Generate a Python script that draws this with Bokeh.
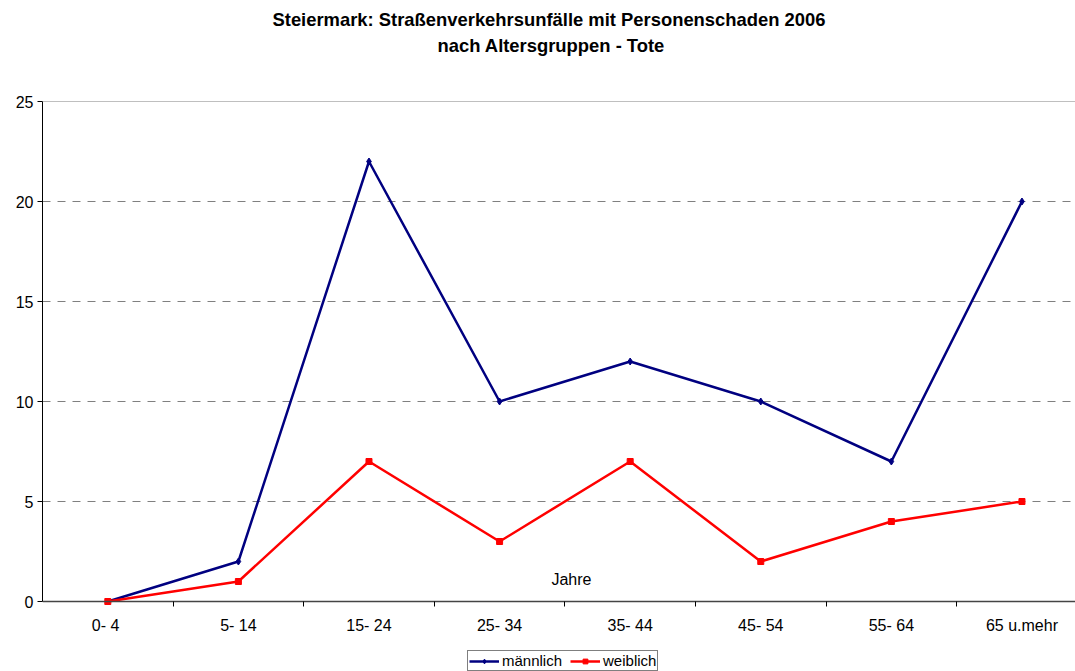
from bokeh.plotting import figure
from bokeh.models import FixedTicker, Legend, LegendItem, Label, Span, Title
from bokeh.embed import file_html
from bokeh.resources import INLINE

categories = ["0-  4", "5- 14", "15- 24", "25- 34", "35- 44", "45- 54", "55- 64", "65 u.mehr"]
maennlich = [0, 2, 22, 10, 12, 10, 7, 20]
weiblich = [0, 1, 7, 3, 7, 2, 4, 5]
title_lines = ["Steiermark: Straßenverkehrsunfälle mit Personenschaden 2006", "nach Altersgruppen - Tote"]

xs = list(range(len(categories)))
bounds = [i + 0.5 for i in range(len(categories) - 1)]

p = figure(width=1075, height=671, output_backend="svg", toolbar_location=None,
           x_range=(-0.5, 7.41), y_range=(-3.5, 25),
           min_border_left=42, min_border_right=0, min_border_top=101, min_border_bottom=0)
p.outline_line_color = None
p.background_fill_color = "white"
p.border_fill_color = "white"
p.title.visible = False

FONT = "Liberation Sans"

spacer = Title(text=" ", text_font=FONT, text_font_size="18.4px", standoff=21)
t2 = Title(text=title_lines[1], align="left", text_font=FONT, text_font_size="18.4px",
           text_font_style="bold", text_color="black", offset=395, standoff=3)
t1 = Title(text=title_lines[0], align="left", text_font=FONT, text_font_size="18.4px",
           text_font_style="bold", text_color="black", offset=230, standoff=3)
p.add_layout(spacer, "above")
p.add_layout(t2, "above")
p.add_layout(t1, "above")

# y axis
p.yaxis.ticker = FixedTicker(ticks=[0, 5, 10, 15, 20, 25])
p.yaxis.bounds = (0, 25)
p.yaxis.axis_line_color = "black"
p.yaxis.major_tick_out = 5
p.yaxis.major_tick_in = 0
p.yaxis.minor_tick_line_color = None
p.yaxis.major_label_text_font = FONT
p.yaxis.major_label_text_font_size = "16px"
p.yaxis.major_label_text_color = "black"
p.yaxis.major_label_standoff = 4

# x axis
p.xaxis.fixed_location = 0
p.xaxis.ticker = FixedTicker(ticks=xs, minor_ticks=bounds)
p.xaxis.major_label_overrides = {i: c for i, c in enumerate(categories)}
p.xaxis.major_tick_line_color = None
p.xaxis.minor_tick_out = 5
p.xaxis.minor_tick_in = 0
p.xaxis.minor_tick_line_color = "black"
p.xaxis.axis_line_color = "#444444"
p.xaxis.axis_line_width = 1.5
p.xaxis.major_label_text_font = FONT
p.xaxis.major_label_text_font_size = "16px"
p.xaxis.major_label_text_color = "black"
p.xaxis.major_label_standoff = 9

p.xgrid.grid_line_color = None
p.ygrid.ticker = FixedTicker(ticks=[5, 10, 15, 20])
p.ygrid.grid_line_color = "#808080"
p.ygrid.grid_line_dash = "8 7"
p.add_layout(Span(location=25, dimension="width", line_color="#808080", line_width=1))

lm = p.line(xs, maennlich, line_color="#000080", line_width=2.5)
sm = p.scatter(xs, maennlich, marker="diamond", size=7, fill_color="#000080", line_color="#000080")
lw = p.line(xs, weiblich, line_color="#ff0000", line_width=2.5)
sw = p.scatter(xs, weiblich, marker="square", size=6, fill_color="#ff0000", line_color="#ff0000")

p.add_layout(Label(x=3.55, y=1.1, text="Jahre", text_font=FONT, text_font_size="16px",
                   text_color="black", text_align="center", text_baseline="middle"))

legend = Legend(items=[LegendItem(label="männlich", renderers=[lm, sm]),
                       LegendItem(label="weiblich", renderers=[lw, sw])],
                orientation="horizontal", location=(425, 0),
                label_text_font=FONT, label_text_font_size="15px", label_text_color="black",
                border_line_color="black", border_line_width=1,
                padding=1, spacing=8, margin=0, glyph_width=30, glyph_height=12,
                label_standoff=3, label_height=12)
p.add_layout(legend, "center")

open("out.html", "w").write(file_html(p, INLINE))
